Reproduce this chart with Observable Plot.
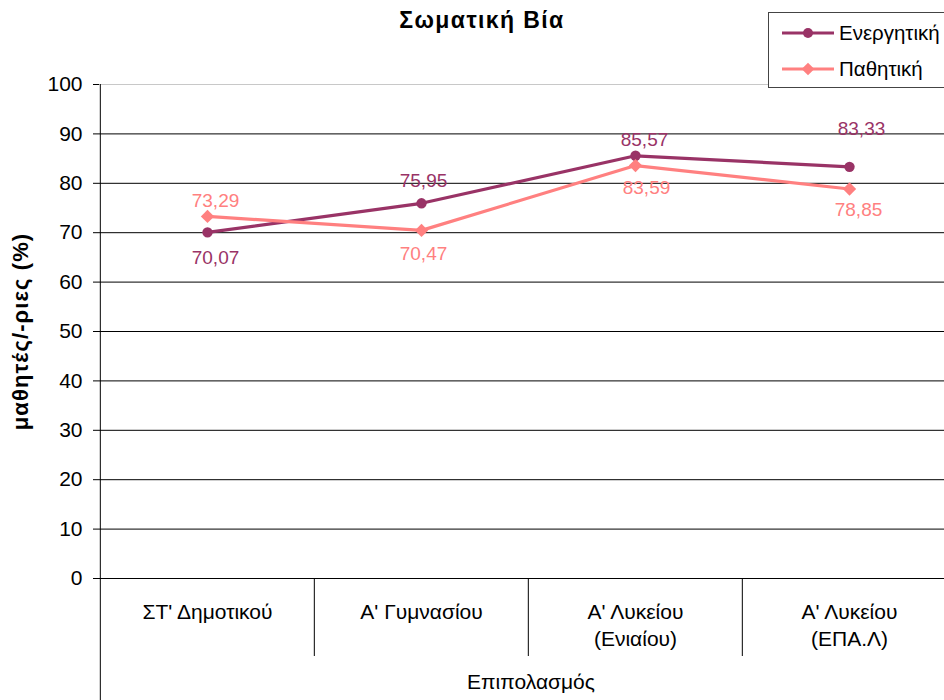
<!DOCTYPE html>
<html>
<head>
<meta charset="utf-8">
<script src="https://cdn.jsdelivr.net/npm/d3@7"></script>
<script src="https://cdn.jsdelivr.net/npm/@observablehq/plot@0.6"></script>
<style>
  html, body { margin: 0; padding: 0; background: #fff; overflow: hidden; }
  #wrap { position: relative; width: 944px; height: 700px; overflow: hidden; font-family: "Liberation Sans", Arial, sans-serif; }
  #title { position: absolute; left: 380px; width: 204px; top: 7px; text-align: center; font-weight: bold; font-size: 23px; letter-spacing: 1.4px; }
  #legend { position: absolute; left: 768px; top: 12px; width: 200px; height: 74px; border: 1px solid #444; background: #fff; }
  .lg { position: absolute; left: 13px; height: 24px; display: flex; align-items: center; font-size: 20.5px; white-space: nowrap; }
  .lg svg { margin-right: 5px; }
</style>
</head>
<body>
<div id="wrap">
  <div id="chart"></div>
  <div id="title"></div>
  <div id="legend"></div>
</div>
<script>
const title = "Σωματική Βία";
const categories = ["ΣΤ' Δημοτικού", "Α' Γυμνασίου", "Α' Λυκείου\n(Ενιαίου)", "Α' Λυκείου\n(ΕΠΑ.Λ)"];
const seriesNames = ["Ενεργητική", "Παθητική"];
const energitiki = [70.07, 75.95, 85.57, 83.33];
const pathitiki = [73.29, 70.47, 83.59, 78.85];
const yTicks = [0, 10, 20, 30, 40, 50, 60, 70, 80, 90, 100];
const yTitle = "μαθητές/-ριες (%)";
const xTitle = "Επιπολασμός";

// layout / styles
const colors = ["#993366", "#FF8080"];
const symbols = ["circle", "diamond2"];
const labelDy = [[26, -22, -16, -38], [-16, 24, 22, 21]];
const labelDx = [[8, 2, 9, 12], [8, 2, 11, 9]];
const XRANGE = [99, 956.5];
const step = (XRANGE[1] - XRANGE[0]) / categories.length;
const FONT = 21;
const LABEL_FONT = 19;

const rows = [];
[energitiki, pathitiki].forEach((vals, s) => {
  vals.forEach((v, i) => rows.push({series: seriesNames[s], cat: categories[i], value: v, s, i}));
});
const fmt = v => v.toFixed(2).replace(".", ",");

const marks = [];
// gridlines
marks.push(Plot.ruleY(yTicks.filter(t => t > 0 && t < 100), {y: d => d, stroke: "#000", strokeWidth: 1}));
marks.push(Plot.ruleY([100], {y: d => d, stroke: "#c8c8c8", strokeWidth: 1}));
// y axis ticks and labels
marks.push(Plot.axisY({ticks: yTicks, tickSize: 6, tickPadding: 11, fontSize: FONT, label: null, tickFormat: d => String(d), stroke: "#000"}));
// baseline at 0
marks.push(Plot.ruleY([0], {y: d => d, stroke: "#000", strokeWidth: 1}));
// left axis line extending to bottom
marks.push(Plot.ruleX([categories[0]], {x: d => d, y1: 100, y2: 0, dx: -step / 2, insetBottom: -122, stroke: "#000", strokeWidth: 1}));
// category separators
marks.push(Plot.ruleX(categories.slice(1), {x: d => d, y1: 0, y2: 0, dx: -step / 2, insetBottom: -78, stroke: "#000", strokeWidth: 1}));
// category labels
marks.push(Plot.text(categories, {x: d => d, y: 0, text: d => d, dy: 21, lineAnchor: "top", lineHeight: 1.3, fontSize: FONT, fill: "#000"}));
// x title
marks.push(Plot.text([xTitle], {frameAnchor: "bottom", text: d => d, dx: 9, dy: 110, fontSize: FONT, fill: "#000"}));
// y title
marks.push(Plot.text([yTitle], {frameAnchor: "left", textAnchor: "middle", text: d => d, dx: -79, rotate: -90, fontSize: 22, fontWeight: "bold", fill: "#000"}));
// series lines, markers, labels
seriesNames.forEach((name, s) => {
  const data = rows.filter(d => d.s === s);
  marks.push(Plot.line(data, {x: "cat", y: "value", stroke: colors[s], strokeWidth: 3.2}));
  marks.push(Plot.dot(data, {x: "cat", y: "value", fill: colors[s], stroke: "none", symbol: symbols[s], r: s === 0 ? 5.2 : 6}));
  data.forEach(d => {
    marks.push(Plot.text([d], {x: "cat", y: "value", text: d => fmt(d.value), dx: labelDx[s][d.i], dy: labelDy[s][d.i], fontSize: LABEL_FONT, fill: colors[s]}));
  });
});

const chart = Plot.plot({
  width: 944,
  height: 700,
  marginTop: 84,
  marginBottom: 122,
  marginLeft: 99,
  marginRight: 0,
  style: {fontFamily: "'Liberation Sans', Arial, sans-serif", color: "#000", background: "#fff", overflow: "hidden"},
  x: {type: "point", domain: categories, range: XRANGE, padding: 0.5, axis: null},
  y: {domain: [0, 100], range: [578, 84], axis: null},
  marks
});
document.getElementById("chart").appendChild(chart);
chart.querySelectorAll("text").forEach(t => {
  if (t.textContent === yTitle) t.style.letterSpacing = "1.1px";
});

document.getElementById("title").textContent = title;
const legend = document.getElementById("legend");
seriesNames.forEach((name, s) => {
  const row = document.createElement("div");
  row.className = "lg";
  row.style.top = (s === 0 ? 8 : 44) + "px";
  const sym = s === 0
    ? `<circle cx="26" cy="12" r="5" fill="${colors[s]}"/>`
    : `<rect x="21.5" y="7.5" width="9" height="9" fill="${colors[s]}" transform="rotate(45 26 12)"/>`;
  row.innerHTML = `<svg width="52" height="24"><line x1="0" x2="52" y1="12" y2="12" stroke="${colors[s]}" stroke-width="3.2"/>${sym}</svg><span>${name}</span>`;
  legend.appendChild(row);
});
</script>
</body>
</html>
